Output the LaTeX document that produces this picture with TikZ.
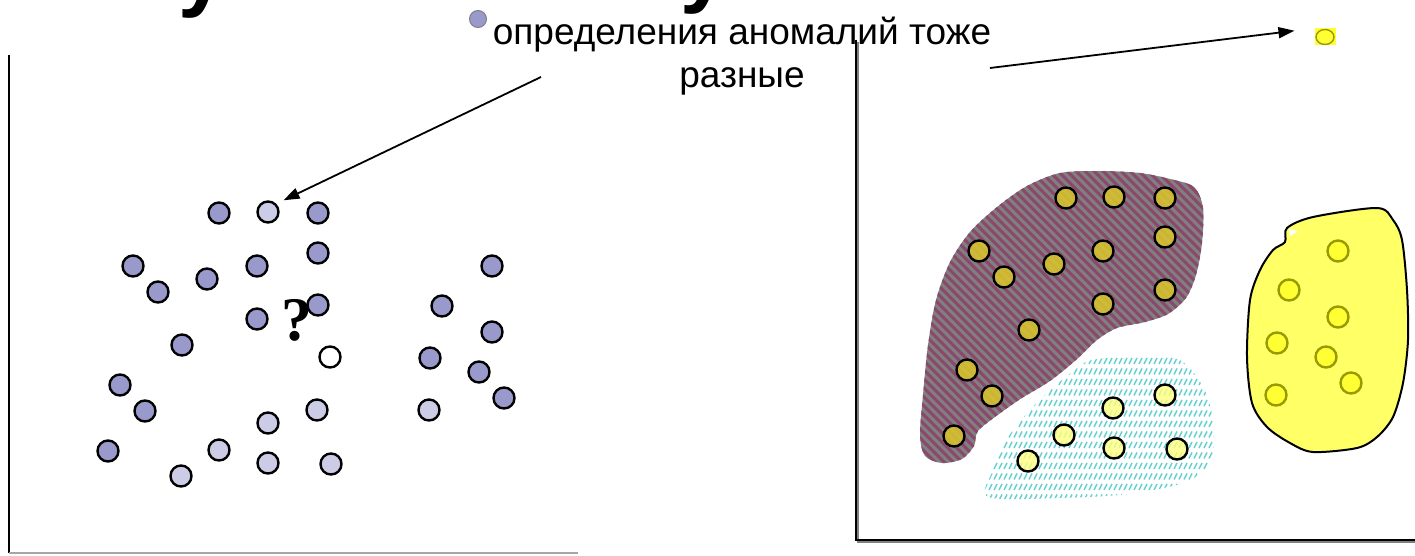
\documentclass[tikz,border=0pt]{standalone}
\usepackage{fontspec}
\setmainfont{Liberation Sans}
\newfontfamily\qfont{Liberation Serif}
\usetikzlibrary{arrows.meta}

\definecolor{dotdark}{RGB}{153,153,204}
\definecolor{dotlight}{RGB}{204,204,230}
\definecolor{dotolive}{RGB}{218,199,43}
\definecolor{dotpale}{RGB}{255,255,128}
\definecolor{dotbright}{RGB}{255,255,51}
\definecolor{dotrim}{RGB}{153,153,0}
\definecolor{blobgray}{RGB}{128,128,128}
\definecolor{blobstripe}{RGB}{140,72,108}
\definecolor{blobyellow}{RGB}{255,255,102}
\definecolor{hatchcyan}{RGB}{102,208,208}

\begin{document}
\begin{tikzpicture}[x=1pt, y=-1pt,
    % Define styles for points, frames and arrows
    dot/.style={circle, draw, line width=2.4pt, minimum size=21pt, inner sep=0pt},
    dark/.style={dot, fill=dotdark},
    light/.style={dot, fill=dotlight},
    blank/.style={dot, fill=white},
    inbrown/.style={dot, fill=dotolive, fill opacity=0.85},
    incyan/.style={dot, fill=dotpale, fill opacity=0.8},
    inyellow/.style={dot, draw=dotrim, fill=dotbright},
    marker/.style={rectangle, fill=dotbright, minimum width=21pt, minimum height=17pt, inner sep=0pt,
        path picture={\draw[dotrim, line width=1.4pt] (path picture bounding box.center) ellipse (9pt and 7.5pt);}},
    frame/.style={line width=2.8pt},
    shade/.style={line width=2.6pt, gray},
    stripe/.style={blobstripe, line width=3pt},
    hatch/.style={hatchcyan, line width=1.5pt},
    arrow/.style={-{Triangle[length=16pt,width=11pt]}, line width=1.8pt},
    note/.style={font=\fontsize{37}{43}\selectfont, align=center},
    glyph/.style={font=\fontsize{86}{86}\selectfont\bfseries, anchor=base, inner sep=0pt}
]
    \useasboundingbox (0,0) rectangle (1415,556);

    % Title descenders cut by the page top
    \node[glyph] (titleA) at (202,1) {у};
    \node[glyph] (titleB) at (704,-3) {у};

    % Frames
    \draw[frame] (9,55) -- (9,553);
    \draw[gray!70, line width=2pt] (9,553) -- (578,553);
    \draw[shade] (858,42) -- (858,542) -- (1415,542);
    \draw[frame] (856,40) -- (856,540) -- (1415,540);

    % Left panel
    \node[font=\fontsize{62}{62}\selectfont\qfont\bfseries, anchor=base, inner sep=0pt] (qmark) at (297,340) {?};
    \foreach \x/\y [count=\i] in {219/213, 318/213, 318/253, 133/266, 158/292, 207/279, 257/266,
        257/319, 318/305, 182/345, 120/385, 145/411, 108/451, 492/266, 442/306, 492/332,
        430/358, 479/372, 504/398}
        \node[dark] (d\i) at (\x,\y) {};
    \foreach \x/\y [count=\i] in {268/212, 317/410, 268/423, 219/450, 268/463, 331/464, 181/476, 429/410}
        \node[light] (l\i) at (\x,\y) {};
    \node[blank] (q) at (330,357) {};

    % Note with its bullet
    \node[dot, fill=dotdark, draw=gray, line width=1pt, minimum size=17pt] (bullet) at (478,19) {};
    \node[note, anchor=base] (note) at (742,88) {определения аномалий тоже\\разные};
    \coordinate (from-note) at (541,77);
    \draw[arrow, shorten >=8pt] (from-note) -- (l1.north east);

    % Right panel: striped cluster
    \begin{scope}
        \clip plot[smooth cycle, tension=0.5] coordinates {
            (920,435) (923,395) (928,345) (936,300) (950,262) (970,232) (997,207) (1027,186)
            (1060,173) (1100,171) (1140,173) (1170,179) (1194,187) (1203,208) (1202,243)
            (1196,275) (1186,298) (1168,314) (1145,322) (1117,328) (1097,340) (1076,360)
            (1050,381) (1022,398) (999,414) (978,431) (974,446) (962,459) (942,463) (925,456)};
        \fill[blobgray] (900,160) rectangle (1220,480);
        \foreach \c in {-1040,-1031,...,-440}
            \draw[stripe] ({900},{900+\c}) -- ({1220},{1220+\c});
    \end{scope}

    % Right panel: hatched cluster
    \begin{scope}
        \clip plot[smooth cycle, tension=0.5] coordinates {
            (988,497) (993,470) (1001,450) (1013,430) (1030,410) (1048,392) (1072,372)
            (1092,360) (1140,356) (1177,359) (1194,373) (1206,393) (1212,415) (1214,440)
            (1212,460) (1200,474) (1180,484) (1130,494) (1060,498)};
        \foreach \r in {0,...,13}
            \foreach \c in {0,...,46}
                \draw[hatch] ({984+5*\c},{364+10.5*\r}) -- ++(3,-6);
    \end{scope}

    % Right panel: yellow cluster
    \filldraw[fill=blobyellow, line width=2pt] plot[smooth cycle, tension=0.5] coordinates {
        (1287,228) (1313,217) (1377,208) (1393,220) (1402,240) (1407,290) (1408,340)
        (1403,383) (1393,417) (1377,437) (1357,448) (1313,452) (1290,443) (1267,427)
        (1252,403) (1247,357) (1250,300) (1260,270) (1273,250) (1285,242)};
    \fill[white] (1289,229) -- (1298,231) -- (1290,236) -- cycle;

    \foreach \x/\y [count=\i] in {1066/198, 1114/197, 1165/198, 1165/237, 979/251, 1103/251,
        1054/264, 1004/277, 1165/290, 1103/304, 1029/330, 967/370, 992/396, 954/436}
        \node[inbrown] (b\i) at (\x,\y) {};
    \foreach \x/\y [count=\i] in {1165/395, 1113/408, 1064/435, 1114/448, 1177/449, 1028/461}
        \node[incyan] (c\i) at (\x,\y) {};
    \foreach \x/\y [count=\i] in {1338/251, 1289/290, 1338/317, 1277/343, 1326/357, 1351/383, 1276/395}
        \node[inyellow] (y\i) at (\x,\y) {};

    % Outlier marker and its arrow
    \node[marker] (mark) at (1325,37) {};
    \coordinate (from-right) at (990,68);
    \draw[arrow, shorten >=20pt] (from-right) -- (mark.north west);
\end{tikzpicture}
\end{document}
